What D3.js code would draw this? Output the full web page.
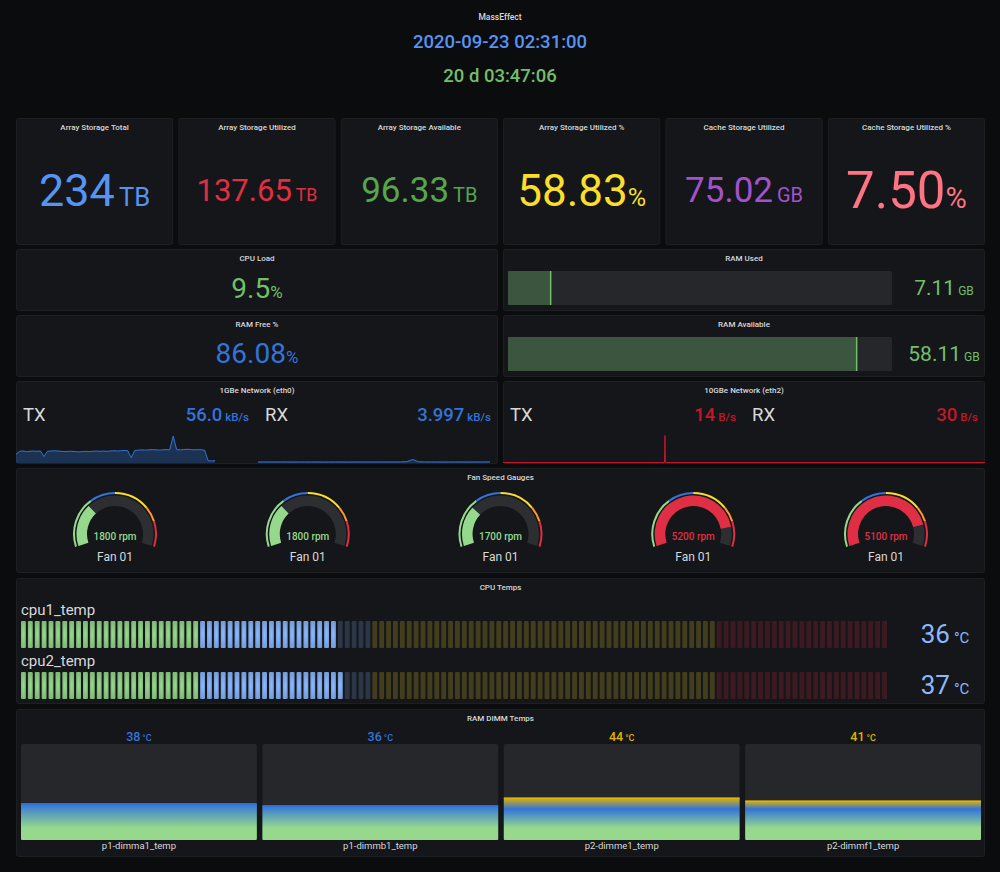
<!DOCTYPE html>
<html>
<head>
<meta charset="utf-8">
<script src="https://cdn.jsdelivr.net/npm/d3@7"></script>
<style>
  body { margin: 0; background: #0b0c0e; }
  svg { display: block; font-family: Roboto, "Noto Sans", sans-serif; }
</style>
</head>
<body>
<script>
// ---- data ----
let headerTitle = "MassEffect";
let headerDate = "2020-09-23 02:31:00";
let headerUptime = "20 d 03:47:06";

let storageTitles = ["Array Storage Total", "Array Storage Utilized", "Array Storage Available",
                     "Array Storage Utilized %", "Cache Storage Utilized", "Cache Storage Utilized %"];
let storageValues = [234, 137.65, 96.33, 58.83, 75.02, 7.50];
let storageDecimals = [0, 2, 2, 2, 2, 2];
let storageUnits = ["TB", "TB", "TB", "%", "GB", "%"];

let cpuLoad = 9.5;
let ramFreePct = 86.08;

let ramBarTitles = ["RAM Used", "RAM Available"];
let ramBarValues = [7.11, 58.11];
let ramTotal = 64;

// network: last values and sparkline samples (kB/s for eth0, B/s for eth2)
let eth0Values = [56.0, 3.997];
let eth0Tx = [30, 40, 41, 39, 40, 41, 40, 41, 22, 40, 41, 42, 41, 40, 39, 40, 40, 39, 38, 39,
              40, 39, 40, 41, 40, 41, 40, 41, 42, 41, 42, 43, 42, 18, 43, 44, 45, 44, 45, 46,
              45, 44, 45, 46, 45, 92, 46, 45, 46, 47, 46, 45, 46, 45, 44, 8, 7, 8,
              null, null, null, null, null, null, null, null, null, null, null, null];
let eth0Rx = [3.5, 3.6, 3.4, 3.5, 3.7, 3.5, 3.4, 3.6, 3.5, 3.5, 3.6, 3.4, 3.5, 3.6, 3.5, 3.4,
              3.5, 3.6, 3.5, 3.5, 3.4, 3.6, 3.5, 3.5, 3.6, 4.5, 12, 4.2, 3.5, 3.6, 3.5, 3.4,
              3.5, 3.6, 3.5, 3.4, 3.5, 3.6, 3.5, 4.0];
let eth2Values = [14, 30];
let eth2Tx = [[0, 0], [67.0, 0], [67.2, 620], [67.4, 0], [100, 0]];
let eth2Rx = [[0, 0], [100, 0]];

let fanNames = ["Fan 01", "Fan 01", "Fan 01", "Fan 01", "Fan 01"];
let fanRpm = [1800, 1800, 1700, 5200, 5100];
let fanMax = 6000;
let fanSteps = [{v: 0, c: "#96d98d"}, {v: 2000, c: "#3274d9"}, {v: 3000, c: "#fade2a"},
                {v: 4400, c: "#ff9830"}, {v: 5000, c: "#e02f44"}];

let cpuNames = ["cpu1_temp", "cpu2_temp"];
let cpuValues = [36, 37];
let cpuSteps = [{v: 0, c: "#96d98d"}, {v: 20, c: "#8ab8ff"}, {v: 40, c: "#fade2a"}, {v: 80, c: "#e02f44"}];

let dimmNames = ["p1-dimma1_temp", "p1-dimmb1_temp", "p2-dimme1_temp", "p2-dimmf1_temp"];
let dimmValues = [38, 36, 44, 41];
let dimmSteps = [{v: 0, c: "#96d98d"}, {v: 25, c: "#3274d9"}, {v: 40, c: "#e0b400"}, {v: 80, c: "#e02f44"}];

// ---- styles ----
let statPalette = ["#5794f2", "#e02f44", "#56a64b", "#fade2a", "#a352cc", "#ff7383"];
let statFontSize = [45, 31, 35, 44, 35, 51];
let textColor = "#d8d9da";

let svg = d3.select("body").append("svg")
    .attr("width", 1000)
    .attr("height", 872);
svg.append("rect").attr("width", 1000).attr("height", 872).attr("fill", "#0b0c0e");
let defs = svg.append("defs");

// draws a panel frame with its small centred title
function panel(x, y, w, h, title) {
  svg.append("rect")
      .attr("x", x + 0.5).attr("y", y + 0.5)
      .attr("width", w - 1).attr("height", h - 1)
      .attr("rx", 2)
      .attr("fill", "#141619")
      .attr("stroke", "#1d1f23");
  svg.append("text")
      .attr("x", x + w / 2).attr("y", y + 12)
      .attr("text-anchor", "middle")
      .attr("font-size", 8)
      .attr("font-weight", 500)
      .attr("fill", textColor)
      .text(title);
}

// a value followed by a smaller unit
function valueText(x, y, value, unit, fs, us, color, anchor, gap, weight) {
  let t = svg.append("text")
      .attr("x", x).attr("y", y)
      .attr("text-anchor", anchor)
      .attr("font-weight", weight || 500)
      .attr("fill", color);
  t.append("tspan").attr("font-size", fs).text(value);
  t.append("tspan").attr("font-size", us).attr("dx", gap).text(unit);
}

function stepColor(steps, v) {
  let c = steps[0].c;
  steps.forEach(s => { if (v >= s.v) c = s.c; });
  return c;
}

// ---- header ----
svg.append("text").attr("x", 500).attr("y", 20).attr("text-anchor", "middle")
    .attr("font-size", 8.5).attr("font-weight", 500).attr("fill", textColor).text(headerTitle);
svg.append("text").attr("x", 500).attr("y", 48).attr("text-anchor", "middle")
    .attr("font-size", 18.5).attr("font-weight", 500).attr("fill", "#5794f2").text(headerDate);
svg.append("text").attr("x", 500).attr("y", 82).attr("text-anchor", "middle")
    .attr("font-size", 18.5).attr("font-weight", 500).attr("fill", "#73bf69").text(headerUptime);

// ---- storage stats ----
let statBand = d3.scaleBand()
    .domain(d3.range(storageTitles.length))
    .range([16, 985])
    .paddingInner(0.032);

storageTitles.forEach(function(t, i) {
  let x0 = statBand(i), bw = statBand.bandwidth();
  panel(x0, 118, bw, 127, t);
  let fs = statFontSize[i];
  valueText(x0 + bw / 2, 190 + 0.3555 * fs,
            storageValues[i].toFixed(storageDecimals[i]), storageUnits[i],
            fs, fs * 0.57, statPalette[i], "middle", storageUnits[i] === "%" ? 0 : 4, 400);
});

// ---- cpu load / ram free ----
panel(16, 249, 482, 62, "CPU Load");
valueText(257, 297.5, cpuLoad.toFixed(1), "%", 28, 17, "#73bf69", "middle", 0, 400);
panel(16, 315, 482, 62, "RAM Free %");
valueText(257, 363, ramFreePct.toFixed(2), "%", 28, 17, "#3274d9", "middle", 0, 400);

// ---- ram bar gauges ----
let ramX = d3.scaleLinear().domain([0, ramTotal]).range([508, 892]);
let ramTops = [249, 315];
ramBarTitles.forEach(function(t, i) {
  let top = ramTops[i];
  panel(503, top, 482, 62, t);
  let by = top + 22, bh = 34;
  svg.append("rect").attr("x", ramX(0)).attr("y", by).attr("width", ramX(ramTotal) - ramX(0))
      .attr("height", bh).attr("rx", 1.5).attr("fill", "#25272b");
  svg.append("rect").attr("x", ramX(0)).attr("y", by).attr("width", ramX(ramBarValues[i]) - ramX(0))
      .attr("height", bh).attr("fill", "#73bf69").attr("fill-opacity", 0.3);
  svg.append("line").attr("x1", ramX(ramBarValues[i])).attr("x2", ramX(ramBarValues[i]))
      .attr("y1", by).attr("y2", by + bh).attr("stroke", "#73bf69").attr("stroke-width", 1.5);
  valueText(944, top + 46, ramBarValues[i].toFixed(2), "GB", 21, 12, "#73bf69", "middle", 3, 400);
});

// ---- network panels ----
function netPanel(x0, title, values, units, color) {
  panel(x0, 381, 482, 83, title);
  svg.append("text").attr("x", x0 + 7).attr("y", 421).attr("font-size", 18.5)
      .attr("fill", textColor).text("TX");
  svg.append("text").attr("x", x0 + 249).attr("y", 421).attr("font-size", 18.5)
      .attr("fill", textColor).text("RX");
  valueText(x0 + 233, 421, values[0], units, 18.5, 11.5, color, "end", 3);
  valueText(x0 + 475, 421, values[1], units, 18.5, 11.5, color, "end", 3);
}

function sparkline(data, xs, ys, color, xAcc, yAcc) {
  let area = d3.area().defined(d => yAcc(d) != null)
      .x(xAcc).y0(ys.range()[0]).y1(d => ys(yAcc(d)));
  let line = d3.line().defined(d => yAcc(d) != null)
      .x(xAcc).y(d => ys(yAcc(d)));
  svg.append("path").datum(data).attr("d", area).attr("fill", color).attr("fill-opacity", 0.3);
  svg.append("path").datum(data).attr("d", line).attr("fill", "none")
      .attr("stroke", color).attr("stroke-width", 1);
}

netPanel(16, "1GBe Network (eth0)", [eth0Values[0].toFixed(1), eth0Values[1].toFixed(3)], "kB/s", "#3274d9");
let eth0Y = d3.scaleLinear().domain([0, 130]).range([463, 425]);
let eth0TxX = d3.scaleLinear().domain([0, eth0Tx.length - 1]).range([16, 257]);
let eth0RxX = d3.scaleLinear().domain([0, eth0Rx.length - 1]).range([258, 490]);
sparkline(eth0Tx, eth0TxX, eth0Y, "#3274d9", (d, i) => eth0TxX(i), d => d);
sparkline(eth0Rx, eth0RxX, eth0Y, "#3274d9", (d, i) => eth0RxX(i), d => d);

netPanel(503, "10GBe Network (eth2)", [String(eth2Values[0]), String(eth2Values[1])], "B/s", "#c4162a");
let eth2Y = d3.scaleLinear().domain([0, 700]).range([462.5, 432]);
let eth2TxX = d3.scaleLinear().domain([0, 100]).range([503, 744]);
let eth2RxX = d3.scaleLinear().domain([0, 100]).range([744, 985]);
sparkline(eth2Tx, eth2TxX, eth2Y, "#c4162a", d => eth2TxX(d[0]), d => d[1]);
sparkline(eth2Rx, eth2RxX, eth2Y, "#c4162a", d => eth2RxX(d[0]), d => d[1]);

// ---- fan gauges ----
panel(16, 468, 969, 105, "Fan Speed Gauges");
let fanX = d3.scalePoint().domain(d3.range(fanRpm.length)).range([115, 886]);
let deg = Math.PI / 180;
let fanAngle = d3.scaleLinear().domain([0, fanMax]).range([-108 * deg, 108 * deg]);
let gaugeY = 534;
let mainArc = d3.arc().innerRadius(28).outerRadius(38.5);
let bandArc = d3.arc().innerRadius(40).outerRadius(42);

fanRpm.forEach(function(v, i) {
  let g = svg.append("g").attr("transform", "translate(" + fanX(i) + "," + gaugeY + ")");
  g.append("path").attr("fill", "#2d2e32")
      .attr("d", mainArc({startAngle: fanAngle(0), endAngle: fanAngle(fanMax)}));
  let col = stepColor(fanSteps, v);
  g.append("path").attr("fill", col)
      .attr("d", mainArc({startAngle: fanAngle(0), endAngle: fanAngle(v)}));
  fanSteps.forEach(function(s, j) {
    let end = j < fanSteps.length - 1 ? fanSteps[j + 1].v : fanMax;
    g.append("path").attr("fill", s.c)
        .attr("d", bandArc({startAngle: fanAngle(s.v), endAngle: fanAngle(end)}));
  });
  g.append("text").attr("y", 6).attr("text-anchor", "middle").attr("font-size", 10)
      .attr("font-weight", 500).attr("fill", col).text(v + " rpm");
  g.append("text").attr("y", 27).attr("text-anchor", "middle").attr("font-size", 12)
      .attr("fill", textColor).text(fanNames[i]);
});

// ---- cpu temps, lcd bar gauges ----
panel(16, 578, 969, 126, "CPU Temps");
let lcdX = d3.scaleLinear().domain([0, 100]).range([21, 889]);
let cellCount = 126;
let cellStep = (lcdX.range()[1] - lcdX.range()[0]) / cellCount;

cpuSteps.forEach(function(s, j) {
  let rg = defs.append("radialGradient").attr("id", "lcd" + j);
  rg.append("stop").attr("offset", "10%").attr("stop-color", s.c);
  rg.append("stop").attr("offset", "100%").attr("stop-color", d3.color(s.c).darker(0.45));
});

cpuNames.forEach(function(name, r) {
  let top = 621 + r * 51;
  svg.append("text").attr("x", 21).attr("y", top - 6).attr("font-size", 15)
      .attr("fill", textColor).text(name);
  let cells = d3.range(cellCount).map(k => 100 / cellCount * k);
  svg.append("g").selectAll("rect").data(cells).join("rect")
      .attr("x", (d, k) => lcdX(0) + k * cellStep)
      .attr("y", top)
      .attr("width", cellStep - 2)
      .attr("height", 27)
      .attr("rx", 1)
      .attr("fill", d => d <= cpuValues[r]
          ? "url(#lcd" + cpuSteps.indexOf(cpuSteps.filter(s => d >= s.v).pop()) + ")"
          : stepColor(cpuSteps, d))
      .attr("fill-opacity", d => d <= cpuValues[r] ? 1 : 0.2);
  valueText(945, top + 22, String(cpuValues[r]), "°C", 26, 15, stepColor(cpuSteps, cpuValues[r]), "middle", 4, 400);
});

// ---- ram dimm temps, gradient bar gauges ----
panel(16, 709, 969, 148, "RAM DIMM Temps");
let dimmX = d3.scaleBand().domain(dimmNames).range([21, 981]).paddingInner(0.023);
let dimmY = d3.scaleLinear().domain([0, 100]).range([840, 744]);
let barSize = dimmY(0) - dimmY(100);

dimmNames.forEach(function(name, i) {
  let v = dimmValues[i];
  let x0 = dimmX(name), bw = dimmX.bandwidth();
  svg.append("rect").attr("x", x0).attr("y", dimmY(100)).attr("width", bw)
      .attr("height", barSize).attr("rx", 2).attr("fill", "#25272b");

  // gradient stops placed the way grafana does it for threshold colours
  let colors = [dimmSteps[0].c], offsets = [], lastpos = 0;
  for (let k = 1; k < dimmSteps.length; k++) {
    if (v < dimmSteps[k].v) break;
    let pos = dimmSteps[k].v / 100 * barSize;
    offsets.push(Math.round(pos - (pos - lastpos) / 2));
    lastpos = pos;
    colors.push(dimmSteps[k].c);
  }
  let fillH = dimmY(0) - dimmY(v);
  let lg = defs.append("linearGradient").attr("id", "dimm" + i)
      .attr("x1", 0).attr("y1", 1).attr("x2", 0).attr("y2", 0);
  lg.append("stop").attr("offset", 0).attr("stop-color", colors[0]);
  offsets.forEach((o, k) => lg.append("stop").attr("offset", o / fillH).attr("stop-color", colors[k]));
  lg.append("stop").attr("offset", 1).attr("stop-color", colors[colors.length - 1]);

  svg.append("rect").attr("x", x0).attr("y", dimmY(v)).attr("width", bw)
      .attr("height", fillH).attr("rx", 1).attr("fill", "url(#dimm" + i + ")");
  svg.append("line").attr("x1", x0).attr("x2", x0 + bw).attr("y1", dimmY(v) + 0.5).attr("y2", dimmY(v) + 0.5)
      .attr("stroke", stepColor(dimmSteps, v)).attr("stroke-width", 1.5);

  valueText(x0 + bw / 2, 740.5, String(v), "°C", 12.5, 9, stepColor(dimmSteps, v), "middle", 2);
  svg.append("text").attr("x", x0 + bw / 2).attr("y", 849).attr("text-anchor", "middle")
      .attr("font-size", 9.5).attr("fill", textColor).text(name);
});
</script>
</body>
</html>
